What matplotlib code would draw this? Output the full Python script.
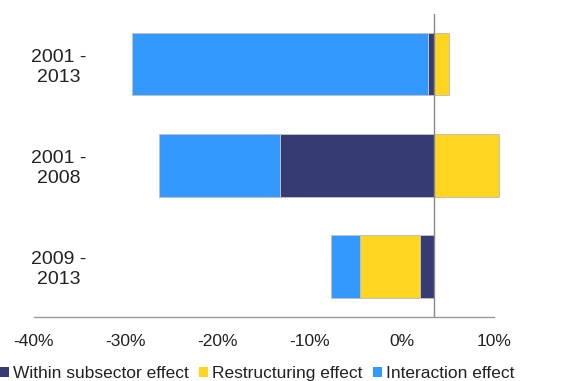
import matplotlib
matplotlib.use('Agg')
import matplotlib.pyplot as plt
from matplotlib.patches import Patch

# Decomposition of change by period (percent)
periods = ['2001 -\n2013', '2001 -\n2008', '2009 -\n2013']
within = [-0.65, -16.7, -1.5]
restructuring = [1.6, 7.1, -6.5]
interaction = [-32.2, -13.2, -3.2]
tick_values = [-40, -30, -20, -10, 0, 10]
tick_labels = ['-40%', '-30%', '-20%', '-10%', '0%', '10%']

series = [
    ('Within subsector effect', within, '#363c73'),
    ('Restructuring effect', restructuring, '#ffd520'),
    ('Interaction effect', interaction, '#3399ff'),
]

plt.rcParams['font.family'] = ['Liberation Sans', 'DejaVu Sans']

W, H = 564, 381
fig = plt.figure(figsize=(W / 100, H / 100), dpi=100)

# axis that only carries the percentage scale along the bottom
ax_scale = fig.add_axes([34 / W, 1 - 317 / H, 460 / W, 303.5 / H])
ax_scale.set_xlim(-40, 10)
ax_scale.set_xticks(tick_values)
ax_scale.set_xticklabels(tick_labels, fontsize=12.5, color='#222222')
ax_scale.tick_params(axis='x', length=0, pad=12)
ax_scale.set_yticks([])
ax_scale.patch.set_visible(False)
for side in ['top', 'left', 'right']:
    ax_scale.spines[side].set_visible(False)
ax_scale.spines['bottom'].set_color('#999999')
ax_scale.spines['bottom'].set_linewidth(1.0)

# bar axis
ax = fig.add_axes([66 / W, 1 - 317 / H, 460 / W, 303.5 / H])
ax.patch.set_visible(False)
ax.set_xlim(-40, 10)
ax.set_ylim(2.5, -0.5)

pos_base = [0.0] * len(periods)
neg_base = [0.0] * len(periods)
for name, vals, color in series:
    lefts = []
    for i, v in enumerate(vals):
        if v < 0:
            lefts.append(neg_base[i])
            neg_base[i] += v
        else:
            lefts.append(pos_base[i])
            pos_base[i] += v
    ax.barh(range(len(periods)), vals, left=lefts, height=0.62, color=color,
            edgecolor='#c0c0c0', linewidth=0.7, label=name, zorder=2)

ax.axvline(0, color='#888888', linewidth=1.0, zorder=3)

ax.set_yticks(range(len(periods)))
ax.set_yticklabels(periods, fontsize=14, color='#222222', ha='center',
                   multialignment='center', linespacing=1.2)
ax.tick_params(axis='y', length=0, pad=5)
ax.set_xticks([])
for side in ['top', 'bottom', 'left', 'right']:
    ax.spines[side].set_visible(False)

handles = [Patch(facecolor=c, edgecolor='none') for _, _, c in series]
fig.legend(handles, [n for n, _, _ in series], loc='lower left',
           bbox_to_anchor=(0.0, 0.0), ncol=3, frameon=False, fontsize=12.5,
           handlelength=0.5, handleheight=0.5, handletextpad=0.25,
           columnspacing=0.6, borderaxespad=0, borderpad=0, labelcolor='#222222')

fig.savefig('out.png', dpi=100)
